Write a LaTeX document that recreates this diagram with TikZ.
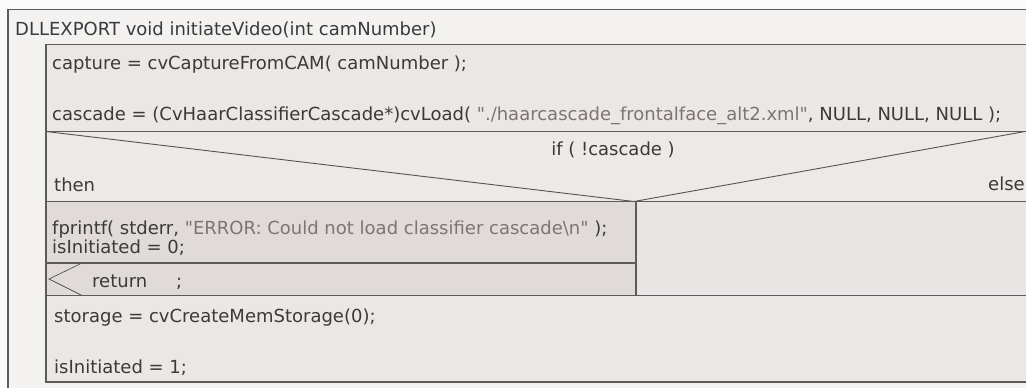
\documentclass[tikz,border=0pt]{standalone}
\usepackage{fontspec}
\setmainfont{DejaVu Sans}[Ligatures=TeXOff]
\definecolor{pagebg}{HTML}{FAFAFA}
\definecolor{titlebg}{HTML}{F3F2F0}
\definecolor{stmtbg}{HTML}{EBE7E4}
\definecolor{ifbg}{HTML}{ECE9E7}
\definecolor{thenbg}{HTML}{E0DBD8}
\definecolor{elsebg}{HTML}{E8E5E4}
\definecolor{rule}{HTML}{5C5C5C}
\definecolor{code}{HTML}{3A3A3A}
\definecolor{strlit}{HTML}{7D7474}
\tikzset{
  cell/.style={draw=rule, line width=1.4pt},
  diag/.style={draw=rule!90!black, line width=0.9pt},
  txt/.style={anchor=base west, inner sep=0pt, text=code, font=\fontsize{18}{20}\selectfont},
}
\newcommand{\strl}[1]{\textcolor{strlit}{#1}}
\newcommand{\dq}{\char34 }
\begin{document}
\begin{tikzpicture}[x=1pt,y=-1pt]
\useasboundingbox (0,0) rectangle (1026,388);
\begin{scope}
\clip (0,0) rectangle (1026,388);
\fill[pagebg] (0,0) rectangle (1026,388);
% function frame
\path[cell, fill=titlebg] (8,9.5) rectangle (1045,400);
% sequence of statements
\path[cell, fill=stmtbg] (46,44.5) rectangle (1045,131.5);
% if header with its two diagonals
\path[cell, fill=ifbg] (46,131.5) rectangle (1045,201.5);
\coordinate (ifL) at (46,131.5);
\coordinate (ifM) at (634,201.5);
\coordinate (ifR) at (1025,131.5);
\draw[diag] (ifL) -- (ifM) -- (ifR);
% then / else branches
\path[cell, fill=thenbg] (46,201.5) rectangle (636,263);
\path[cell, fill=thenbg] (46,263) rectangle (636,295.5);
\path[cell, fill=elsebg] (636,201.5) rectangle (1045,295.5);
% return marker
\coordinate (retT) at (82,263);
\coordinate (retP) at (49,279);
\coordinate (retB) at (82,295.5);
\draw[diag, line width=0.7pt] (retT) -- (retP) -- (retB);
% trailing statements
\path[cell, fill=stmtbg] (46,295.5) rectangle (1045,382);
\end{scope}
% texts
\node[txt] (fn) at (15,35) {DLLEXPORT void initiateVideo(int camNumber)};
\node[txt] (s1) at (52,69) {capture = cvCaptureFromCAM( camNumber );};
\node[txt] (s2) at (52,120.5) {cascade = (CvHaarClassifierCascade*)cvLoad( \strl{\dq./haarcascade\_frontalface\_alt2.xml\dq}, NULL, NULL, NULL );};
\node[txt, anchor=base] (cond) at (613,155) {if ( !cascade )};
\node[txt] (th) at (54,191.5) {then};
\node[txt] (el) at (988,190) {else};
\node[txt] (t1) at (52,234.5) {fprintf( stderr, \strl{\dq ERROR: Could not load classifier cascade\textbackslash n\dq} );};
\node[txt] (t2) at (52,253) {isInitiated = 0;};
\node[txt] (ret) at (92,287) {return};
\node[txt] (semi) at (176,287) {;};
\node[txt] (s3) at (54,322.5) {storage = cvCreateMemStorage(0);};
\node[txt] (s4) at (54,373) {isInitiated = 1;};
\end{tikzpicture}
\end{document}
